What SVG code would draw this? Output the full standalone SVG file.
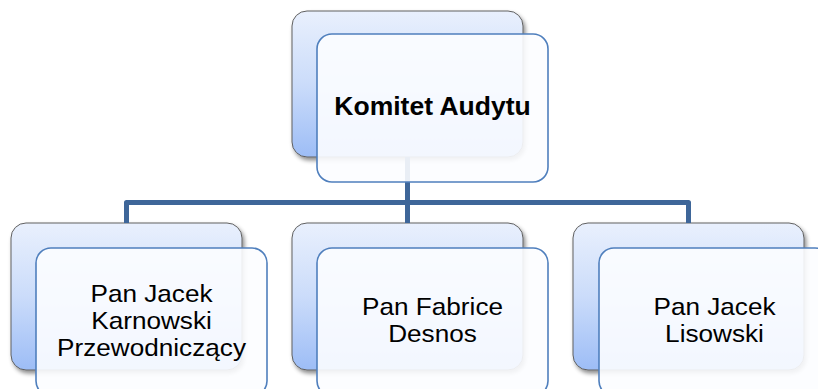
<svg xmlns="http://www.w3.org/2000/svg" width="818" height="389" viewBox="0 0 818 389">
<defs>
<linearGradient id="bg" x1="0" y1="0" x2="0" y2="1">
<stop offset="0" stop-color="#e9f0fd"/>
<stop offset="0.5" stop-color="#cbdcfa"/>
<stop offset="1" stop-color="#9dbdf6"/>
</linearGradient>
<filter id="sh" x="-10%" y="-10%" width="125%" height="130%">
<feDropShadow dx="2" dy="3" stdDeviation="2" flood-color="#000" flood-opacity="0.45"/>
</filter>
</defs>
<style>
.back{fill:url(#bg);stroke:#606060;stroke-width:1;filter:url(#sh)}
.front{fill:#fcfdff;fill-opacity:0.9;stroke:#4f7fbd;stroke-width:1.6}
.conn{fill:none;stroke:#3e6699;stroke-width:5;stroke-linejoin:round}
.t{font-family:"Liberation Sans",Arial,sans-serif;font-size:24px;fill:#000;text-anchor:middle}
.b{font-weight:bold;font-size:26.5px}
</style>
<rect width="818" height="389" fill="#ffffff"/>
<g id="backs">
<rect class="back" x="292" y="11" width="231" height="146" rx="15"/>
<rect class="back" x="11" y="223" width="231" height="147" rx="15"/>
<rect class="back" x="292" y="223" width="231" height="147" rx="15"/>
<rect class="back" x="573" y="223" width="231" height="147" rx="15"/>
</g>
<g id="connectors">
<path class="conn" d="M407.5 157 V202.5 M126.5 223 V202.5 H688.5 V223 M407.5 202.5 V223"/>
</g>
<g id="node-top">
<rect class="front" x="317" y="34" width="231" height="148" rx="15"/>
<text class="t b" x="432.5" y="115">Komitet Audytu</text>
</g>
<g id="node-1">
<rect class="front" x="36" y="248" width="231" height="148" rx="15"/>
<g transform="translate(151.5 0) scale(1.09 1)">
<text class="t" x="0" y="302">Pan Jacek</text>
<text class="t" x="0" y="329">Karnowski</text>
<text class="t" x="0" y="356.5">Przewodniczący</text>
</g>
</g>
<g id="node-2">
<rect class="front" x="317" y="248" width="231" height="148" rx="15"/>
<g transform="translate(432.5 0) scale(1.09 1)">
<text class="t" x="0" y="315">Pan Fabrice</text>
<text class="t" x="0" y="342.5">Desnos</text>
</g>
</g>
<g id="node-3">
<rect class="front" x="599" y="248" width="231" height="148" rx="15"/>
<g transform="translate(714.5 0) scale(1.09 1)">
<text class="t" x="0" y="315">Pan Jacek</text>
<text class="t" x="0" y="342.5">Lisowski</text>
</g>
</g>
</svg>
